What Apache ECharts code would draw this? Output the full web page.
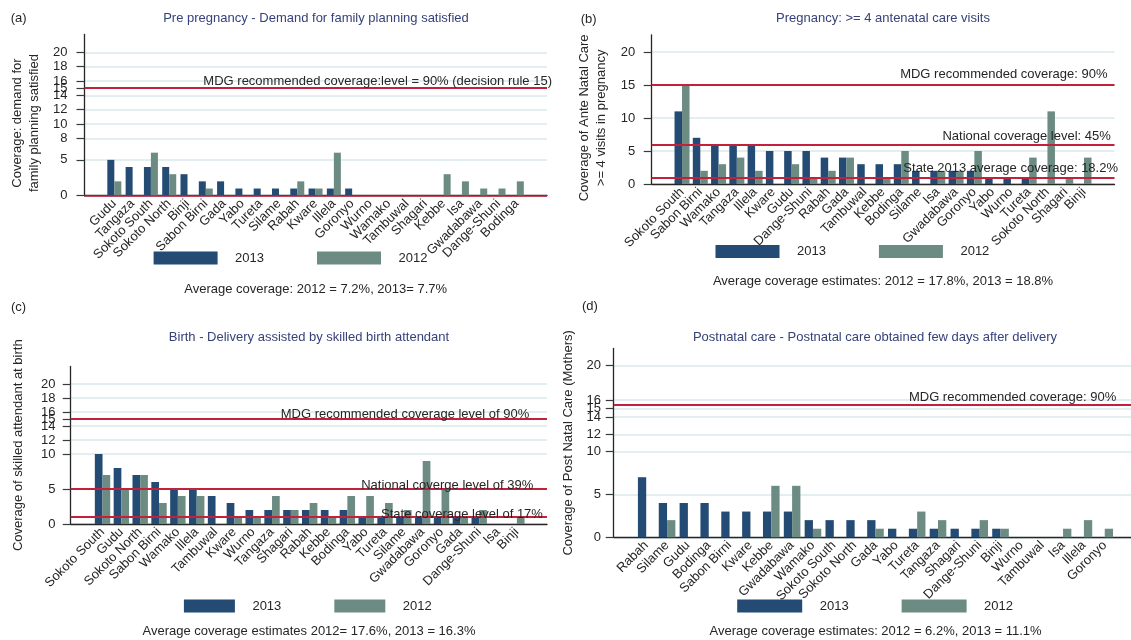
<!DOCTYPE html>
<html>
<head>
<meta charset="utf-8">
<script src="https://cdn.jsdelivr.net/npm/echarts@6/dist/echarts.min.js"></script>
<style>
  html, body { margin: 0; padding: 0; background: #fff; }
  #chart { width: 1131px; height: 640px; }
</style>
</head>
<body>
<div id="chart"></div>
<script>
// ---------- data ----------
// (a) Pre pregnancy: demand for family planning satisfied
const catsA = ['Gudu','Tangaza','Sokoto South','Sokoto North','Binji','Sabon Birni','Gada','Yabo','Tureta','Silame','Rabah','Kware','Illela','Goronyo','Wurno','Wamako','Tambuwal','Shagari','Kebbe','Isa','Gwadabawa','Dange-Shuni','Bodinga'];
const a2013 = [5,4,4,4,3,2,2,1,1,1,1,1,1,1,0,0,0,0,0,0,0,0,0];
const a2012 = [2,0,6,3,0,1,0,0,0,0,2,1,6,0,0,0,0,0,3,2,1,1,2];
const ticksA = [0,5,8,10,12,14,15,16,18,20];
const refA = [15, 0];
const refTextA = ['MDG recommended coverage:level = 90% (decision rule 15)', ''];

// (b) Pregnancy: >= 4 antenatal care visits
const catsB = ['Sokoto South','Sabon Birni','Wamako','Tangaza','Illela','Kware','Gudu','Dange-Shuni','Rabah','Gada','Tambuwal','Kebbe','Bodinga','Silame','Isa','Gwadabawa','Goronyo','Yabo','Wurno','Tureta','Sokoto North','Shagari','Binji'];
const b2013 = [11,7,6,6,6,5,5,5,4,4,3,3,3,2,2,2,2,1,1,1,0,0,0];
const b2012 = [15,2,3,4,2,0,3,1,2,4,0,1,5,0,2,2,5,0,0,4,11,1,4];
const ticksB = [0,5,10,15,20];
const refB = [15, 6, 1];
const refTextB = ['MDG recommended coverage: 90%', 'National coverage level: 45%', 'State 2013 average coverage: 18.2%'];

// (c) Birth: delivery assisted by skilled birth attendant
const catsC = ['Sokoto South','Gudu','Sokoto North','Sabon Birni','Wamako','Illela','Tambuwal','Kware','Wurno','Tangaza','Shagari','Rabah','Kebbe','Bodinga','Yabo','Tureta','Silame','Gwadabawa','Goronyo','Gada','Dange-Shuni','Isa','Binji'];
const c2013 = [10,8,7,6,5,5,4,3,2,2,2,2,2,2,1,1,1,1,1,1,1,0,0];
const c2012 = [7,5,7,3,4,4,0,1,1,4,2,3,1,4,4,3,2,9,5,1,2,0,1];
const ticksC = [0,5,10,12,14,15,16,18,20];
const refC = [15, 5, 1];
const refTextC = ['MDG recommended coverage level of 90%', 'National coverge level of 39%', 'State coverage level of 17%'];

// (d) Postnatal care obtained few days after delivery
const catsD = ['Rabah','Silame','Gudu','Bodinga','Sabon Birni','Kware','Kebbe','Gwadabawa','Wamako','Sokoto South','Sokoto North','Gada','Yabo','Tureta','Tangaza','Shagari','Dange-Shuni','Binji','Wurno','Tambuwal','Isa','Illela','Goronyo'];
const d2013 = [7,4,4,4,3,3,3,3,2,2,2,2,1,1,1,1,1,1,0,0,0,0,0];
const d2012 = [0,2,0,0,0,0,6,6,1,0,0,1,0,3,2,0,2,1,0,0,1,2,1];
const ticksD = [0,5,10,12,14,15,16,20];
const refD = [15.5];
const refTextD = ['MDG recommended coverage: 90%'];

const titles = [
  'Pre pregnancy - Demand for family planning satisfied',
  'Pregnancy: >= 4 antenatal care visits',
  'Birth - Delivery assisted by skilled birth attendant',
  'Postnatal care - Postnatal care obtained few days after delivery'
];
const panelTags = ['(a)', '(b)', '(c)', '(d)'];
const footnotes = [
  'Average coverage: 2012 = 7.2%, 2013= 7.7%',
  'Average coverage estimates: 2012 = 17.8%, 2013 = 18.8%',
  'Average coverage estimates 2012= 17.6%, 2013 = 16.3%',
  'Average coverage estimates: 2012 = 6.2%, 2013 = 11.1%'
];
const yNames = [
  'Coverage: demand for\nfamily planning satisfied',
  'Coverage of Ante Natal Care\n>= 4 visits in pregnancy',
  'Coverage of skilled attendant at birth',
  'Coverage of Post Natal Care (Mothers)'
];

// ---------- style & layout ----------
const FONT = "'Liberation Sans', Arial, Helvetica, sans-serif";
const FS = 13;
const C2013 = '#234b73';
const C2012 = '#6c8b83';
const RED = '#c3203b';
const GRIDC = '#dae8ed';
const INK = '#262626';
const TITLE_C = '#36427a';

const panels = [
  { cats: catsA, v13: a2013, v12: a2012, ticks: ticksA, refs: refA, refText: refTextA,
    grid: { left: 84.5, right: 584, top: 34.4, bottom: 444.3 }, xMin: -1.63, xMax: 23.65, yMax: 22.5,
    barW: 7, labMargin: 17, nameGap: 41, namePad: [0, 16, 0, 0],
    refDist: [[-5, 0.5], [0, 0]], refWidth: [2, 1.6],
    title: [316, 18.3], tag: [10.7, 18.3], foot: [315.7, 289.3],
    legend: { left: 153.6, top: 251.5, w: 64 } },
  { cats: catsB, v13: b2013, v12: b2012, ticks: ticksB, refs: refB, refText: refTextB,
    grid: { left: 651.7, right: 16.5, top: 34.8, bottom: 456 }, xMin: -1.66, xMax: 23.67, yMax: 22.6,
    barW: 7.5, labMargin: 16.5, nameGap: 41.5, namePad: [0, 17, 0, 0],
    refDist: [[7, 4.5], [3.7, 1.2], [-3.5, 2.6]], refWidth: [2, 2, 2],
    title: [883, 18.3], tag: [580.7, 19], foot: [883, 281.7],
    legend: { left: 715.5, top: 245, w: 64 } },
  { cats: catsC, v13: c2013, v12: c2012, ticks: ticksC, refs: refC, refText: refTextC,
    grid: { left: 70.7, right: 584, top: 366.5, bottom: 116 }, xMin: -1.69, xMax: 23.6, yMax: 22.5,
    barW: 7.7, labMargin: 15.3, nameGap: 44, namePad: [0, 0, 0, 0],
    refDist: [[17.7, -2.2], [13.8, -2.5], [4.1, -3.5]], refWidth: [2, 2, 2],
    title: [309, 337.3], tag: [11, 307.3], foot: [309, 631.7],
    legend: { left: 183.9, top: 599.5, w: 51 } },
  { cats: catsD, v13: d2013, v12: d2012, ticks: ticksD, refs: refD, refText: refTextD,
    grid: { left: 613.7, right: 0, top: 348.5, bottom: 102.7 }, xMin: -1.56, xMax: 23.26, yMax: 22,
    barW: 8.3, labMargin: 12.7, nameGap: 36.5, namePad: [0, 0, 0, 0],
    refDist: [[14.7, 0.5]], refWidth: [2],
    title: [875, 337.3], tag: [582, 306.7], foot: [875.6, 631.7],
    legend: { left: 737.2, top: 599.5, w: 65 } }
];

const grids = [], xAxes = [], yAxes = [], series = [], legends = [], graphics = [];

panels.forEach((p, i) => {
  const idx = p.cats.map((_, k) => k);
  grids.push({ left: p.grid.left, right: p.grid.right, top: p.grid.top, bottom: p.grid.bottom, containLabel: false });

  xAxes.push({
    type: 'value', gridIndex: i, min: p.xMin, max: p.xMax,
    axisLine: { show: true, onZero: false, lineStyle: { color: INK, width: 1.3 } },
    axisTick: { show: false, customValues: idx },
    splitLine: { show: false },
    axisLabel: {
      customValues: idx, rotate: 45, margin: 6, interval: 0,
      formatter: v => p.cats[Math.round(v)] || '',
      fontSize: FS, fontFamily: FONT, color: INK
    }
  });

  yAxes.push({
    type: 'value', gridIndex: i, min: 0, max: p.yMax,
    axisLine: { show: true, onZero: false, lineStyle: { color: INK, width: 1.3 } },
    axisTick: { show: true, length: 8, customValues: p.ticks, lineStyle: { color: '#3a3a3a', width: 1.2 } },
    axisLabel: { customValues: p.ticks, margin: p.labMargin, fontSize: FS, fontFamily: FONT, color: INK, hideOverlap: false },
    splitLine: { show: true, lineStyle: { color: GRIDC, width: 1.5 } },
    name: yNames[i], nameLocation: 'middle', nameGap: p.nameGap, nameRotate: 90,
    nameTextStyle: { fontSize: FS, fontFamily: FONT, color: INK, lineHeight: 17.5, padding: p.namePad, align: 'center' }
  });

  const markData = p.refs.map((v, k) => ({
    yAxis: v,
    lineStyle: { color: RED, width: p.refWidth[k], type: 'solid' },
    label: {
      show: p.refText[k] !== '', formatter: p.refText[k], position: 'insideEndTop',
      distance: p.refDist[k], fontSize: FS, fontFamily: FONT, color: INK
    }
  }));

  series.push({
    type: 'bar', name: '2013', xAxisIndex: i, yAxisIndex: i,
    data: p.v13.map((v, k) => [k, v]),
    barWidth: p.barW, barGap: '0%',
    itemStyle: { color: C2013 },
    markLine: { silent: true, symbol: 'none', animation: false, data: markData }
  });
  series.push({
    type: 'bar', name: '2012', xAxisIndex: i, yAxisIndex: i,
    data: p.v12.map((v, k) => [k, v]),
    barWidth: p.barW, barGap: '0%',
    itemStyle: { color: C2012 }
  });

  legends.push({
    data: ['2013', '2012'], left: p.legend.left, top: p.legend.top, orient: 'horizontal',
    icon: 'rect', itemWidth: p.legend.w, itemHeight: 13, itemGap: 53, padding: 0,
    selectedMode: false,
    textStyle: { fontSize: FS, fontFamily: FONT, color: INK, padding: [0, 0, 0, 12.5] }
  });

  graphics.push({
    type: 'text', x: p.title[0], y: p.title[1], silent: true,
    style: { text: titles[i], fill: TITLE_C, font: FS + 'px ' + FONT, align: 'center', verticalAlign: 'middle' }
  });
  graphics.push({
    type: 'text', x: p.tag[0], y: p.tag[1], silent: true,
    style: { text: panelTags[i], fill: INK, font: FS + 'px ' + FONT, align: 'left', verticalAlign: 'middle' }
  });
  graphics.push({
    type: 'text', x: p.foot[0], y: p.foot[1], silent: true,
    style: { text: footnotes[i], fill: INK, font: FS + 'px ' + FONT, align: 'center', verticalAlign: 'middle' }
  });
});

const chart = echarts.init(document.getElementById('chart'), null, { renderer: 'canvas' });
chart.setOption({
  animation: false,
  backgroundColor: '#ffffff',
  textStyle: { fontFamily: FONT },
  grid: grids,
  xAxis: xAxes,
  yAxis: yAxes,
  legend: legends,
  series: series,
  graphic: graphics
});
</script>
</body>
</html>
